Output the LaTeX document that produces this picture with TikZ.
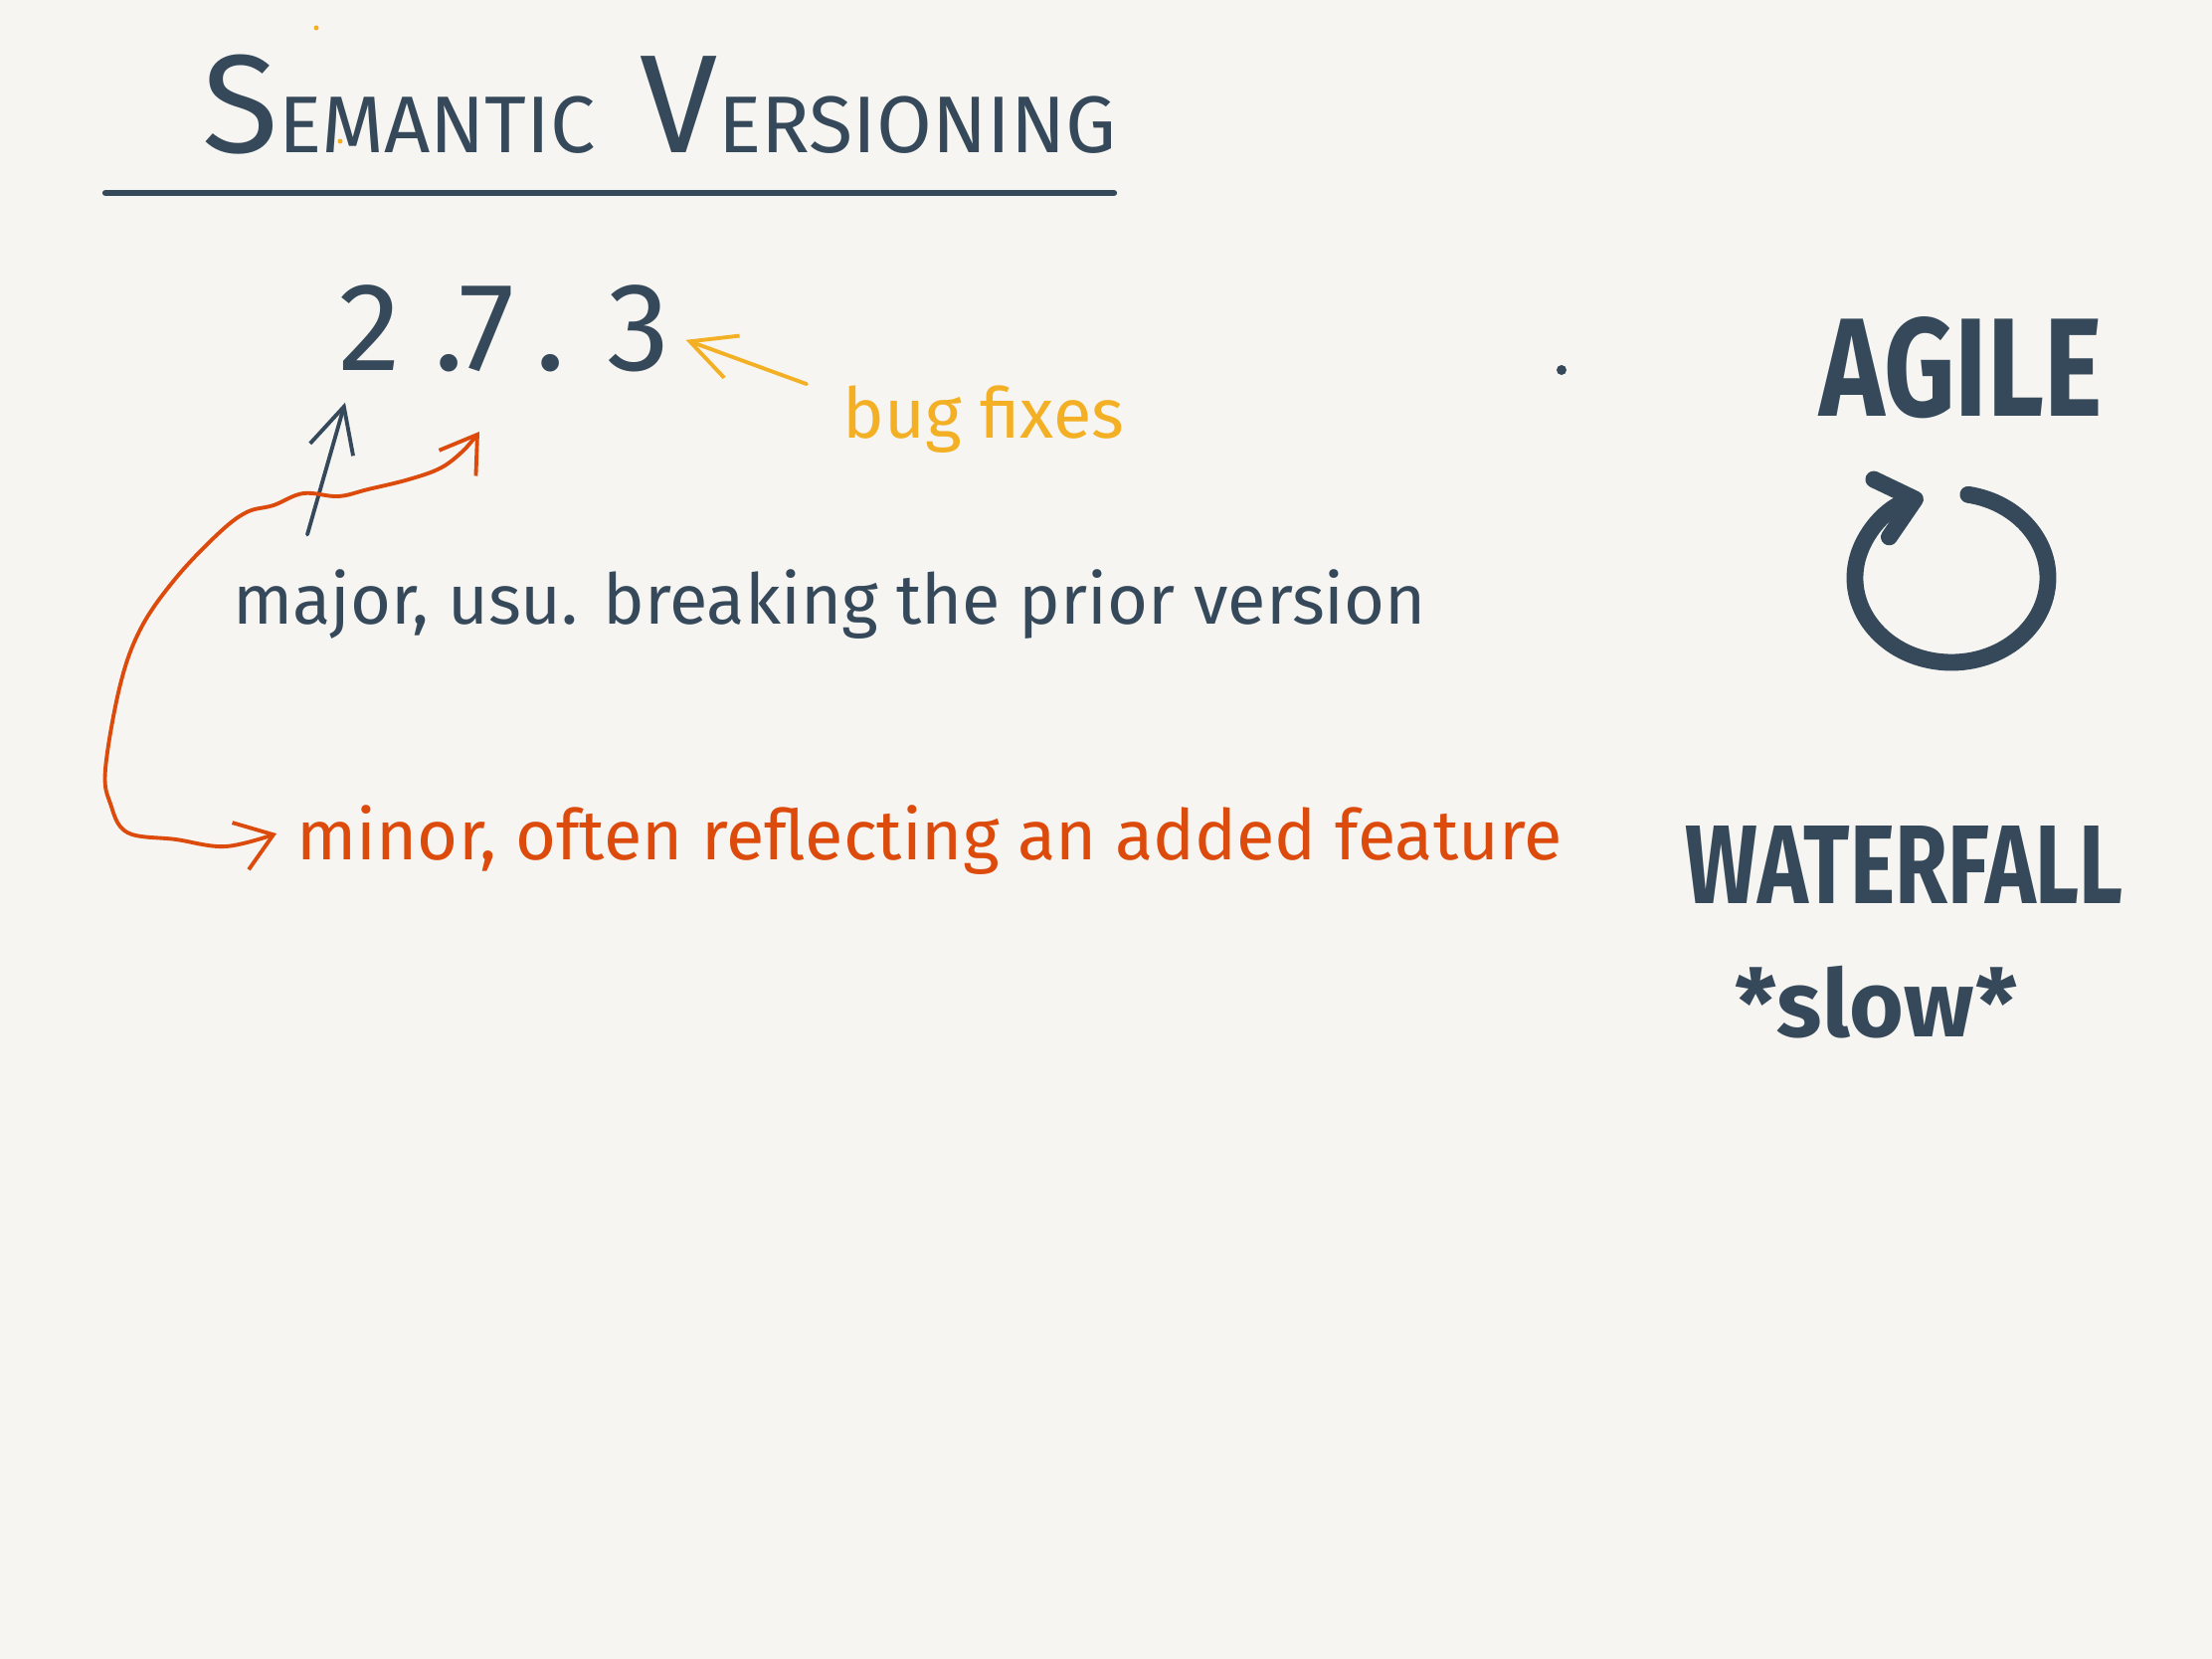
\documentclass[tikz,border=0pt]{standalone}
\usepackage{fontspec}
\setmainfont{Fira Sans}
\usepackage{graphicx}
\usetikzlibrary{arrows.meta,positioning,calc}

\definecolor{paper}{HTML}{F6F5F1}
\definecolor{ink}{HTML}{36495A}
\definecolor{amber}{HTML}{F4B024}
\definecolor{rust}{HTML}{DC4A0C}

\begin{document}
\begin{tikzpicture}[
    line cap=round, line join=round,
    hand/.style={inner sep=0pt, anchor=base west, font=\fontsize{20}{24}\selectfont},
    digit/.style={inner sep=0pt, anchor=base west, text=ink, font=\fontsize{36}{40}\selectfont},
    marker/.style={inner sep=0pt, anchor=base west, text=ink, font=\bfseries},
    arrow/.style={-{Straight Barb[length=4.5mm,width=4.5mm]}, line width=1.1pt},
]
\fill[paper] (0,0) rectangle (22.24,-16.68);
\useasboundingbox (0,0) rectangle (22.24,-16.68);

% title
\node[hand, text=ink] (title) at (2.03,-1.53) {{\fontsize{40}{40}\selectfont S}{\fontsize{23}{23}\selectfont EMANTIC}\hspace{0.45cm}{\fontsize{40}{40}\selectfont V}{\fontsize{23}{23}\selectfont ERSIONING}};
\draw[ink, line width=1.8pt] (1.06,-1.94) -- (11.20,-1.94);
\fill[amber] (3.18,-0.28) circle (0.025) (3.42,-1.42) circle (0.025);

% version number
\node[digit] (majnum) at (3.40,-3.72) {2};
\node[digit] (dot1) at (4.36,-3.72) {.};
\node[digit] (minnum) at (4.61,-3.72) {7};
\node[digit] (dot2) at (5.38,-3.72) {.};
\node[digit] (patchnum) at (6.10,-3.72) {3};

% labels
\node[hand, text=amber] (bugtext) at (8.47,-4.40) {bug fixes};
\node[hand, text=ink] (majtext) at (2.34,-6.27) {major, usu. breaking the prior version};
\node[hand, text=rust] (mintext) at (2.98,-8.64) {minor, often reflecting an added feature};
\fill[ink] (15.70,-3.72) circle (0.05);

\draw[arrow, amber] ([shift={(-0.36,0.35)}]bugtext.west) -- ([shift={(0.15,-0.12)}]patchnum.east);
\draw[arrow, ink] ([shift={(0.75,0.34)}]majtext.north west) -- ([shift={(0.07,-0.32)}]majnum.south west);
\draw[arrow, rust, {Straight Barb[length=3.5mm,width=4.5mm]}-{Straight Barb[length=3.5mm,width=5mm]}]
    plot[smooth, tension=0.6] coordinates {([shift={(0.21,-0.60)}]minnum.south west) (4.68,-4.51) (4.44,-4.70)
    (4.11,-4.82) (3.70,-4.92) (3.40,-4.99) (3.05,-4.96) (2.75,-5.08) (2.48,-5.15) (2.20,-5.36)
    (1.77,-5.81) (1.42,-6.31) (1.21,-6.88) (1.06,-7.73) (1.11,-8.08) (1.28,-8.37) (1.77,-8.44)
    (2.27,-8.51) ([shift={(-0.20,0.06)}]mintext.west)};

% agile / waterfall
\node[marker] (agile) at (18.29,-4.18) {\resizebox{2.84cm}{1cm}{AGILE}};
\coordinate (cyc) at (19.62,-5.81);
\draw[ink, line width=4.8pt, -{Straight Barb[length=3.5mm,width=6mm,round]}]
    (cyc) ++(80:0.97 and 0.85) arc[start angle=80, end angle=-253, x radius=0.97, y radius=0.85];
\node[marker] (waterfall) at (16.94,-9.08) {\resizebox{4.40cm}{0.78cm}{WATERFALL}};
\node[marker] (slow) at (17.44,-10.42) {\resizebox{2.84cm}{!}{*slow*}};

\end{tikzpicture}
\end{document}
